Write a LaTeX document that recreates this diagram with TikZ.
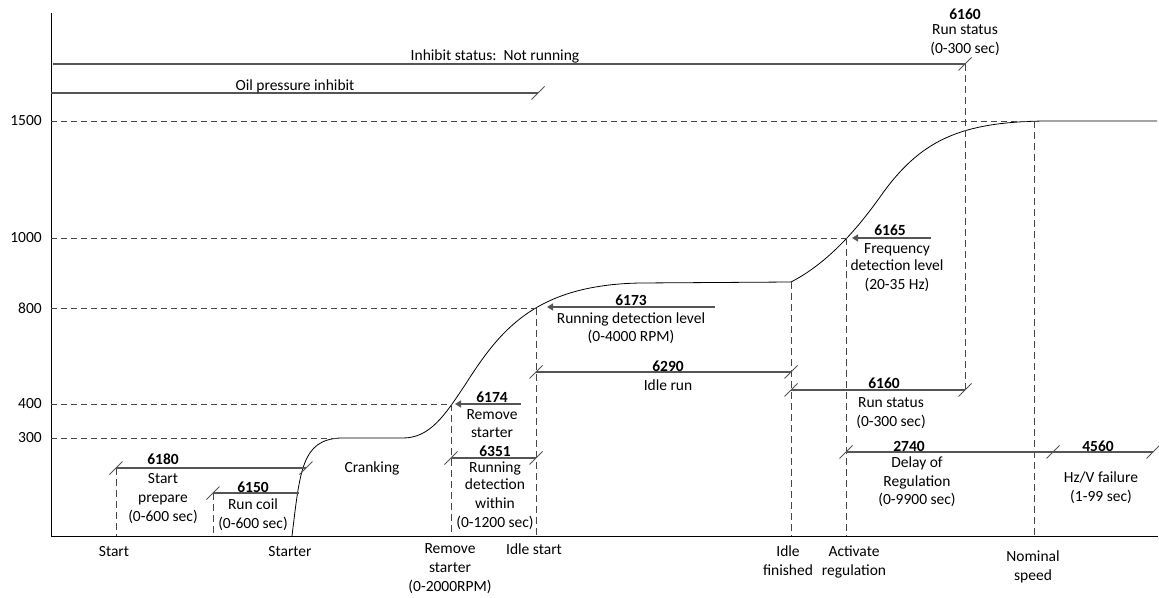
\documentclass[tikz,border=0pt]{standalone}
\usepackage{fontspec}
\setmainfont{Carlito}
\usetikzlibrary{arrows.meta,calc}
\definecolor{spangray}{RGB}{85,85,85}
\definecolor{guidegray}{RGB}{70,70,70}

\tikzset{
  cut/.pic={\draw[spangray,line width=0.8pt] (-6.5,6.5) -- (6.5,-6.5);},
}

\begin{document}
\begin{tikzpicture}[x=1pt,y=-1pt,>={Triangle[length=6pt,width=7pt]},
  font=\fontsize{15.5}{19}\selectfont,
  txt/.style={align=center,inner sep=0pt},
  span/.style={spangray,line width=1.2pt},
  guide/.style={guidegray,line width=0.8pt,dash pattern=on 6pt off 4pt},
  vguide/.style={guidegray,line width=0.8pt,dash pattern=on 7pt off 4pt}]
\useasboundingbox (0,0) rectangle (1159,597);

% axes
\coordinate (top) at (51,13);
\coordinate (orig) at (51,536);
\coordinate (xend) at (1158,536);
\draw[line width=1pt] (top) -- (orig) -- (xend);

% speed curve
\coordinate (crank) at (292,536);
\coordinate (c300) at (340,438);
\coordinate (c400) at (451,404);
\coordinate (c800) at (536,308);
\coordinate (idleend) at (791,282);
\coordinate (c1000) at (846,238);
\coordinate (c1500) at (1040,121);
\coordinate (nom) at (1034,121);
\draw[line width=0.8pt] (crank) .. controls (300,470) and (302,440) .. (c300) -- (403,438)
  .. controls (430,438) and (445,415) .. (465,385)
  .. controls (500,330) and (535,285) .. (640,283) -- (idleend)
  .. controls (830,262) and (860,225) .. (880,197)
  .. controls (920,140) and (960,122) .. (1045,121) -- (1157,121);

% speed levels
\foreach \v/\p in {300/c300,400/c400,800/c800,1000/c1000,1500/c1500}{
  \node[txt,anchor=east] (y\v) at (42,0 |- \p) {\v};
  \draw[guide] (orig |- \p) -- (\p);
}

% spans
\coordinate (ainh) at (53,64);    \coordinate (binh) at (965,64);
\coordinate (aoil) at (51,93);    \coordinate (boil) at (538,93);
\coordinate (a6180) at (116,468); \coordinate (b6180) at (306,468);
\coordinate (a6150) at (213,493); \coordinate (b6150) at (299,493);
\coordinate (a6351) at (451,458); \coordinate (b6351) at (536,458);
\coordinate (a6290) at (536,372); \coordinate (b6290) at (791,372);
\coordinate (a6160) at (791,390); \coordinate (b6160) at (965,390);
\coordinate (a2740) at (846,452); \coordinate (m2740) at (1053,452); \coordinate (b2740) at (1153,452);

\draw[vguide] (a6180) -- (a6180 |- orig);
\draw[vguide] (a6150) -- (a6150 |- orig);
\draw[vguide] (c400) -- (c400 |- orig);
\draw[vguide] (c800) -- (c800 |- orig);
\draw[vguide] (idleend) -- (idleend |- orig);
\draw[vguide] (c1000) -- (c1000 |- orig);
\draw[vguide] (binh) -- (b6160);
\draw[vguide] (nom) -- (nom |- orig);

\draw[span] (ainh) -- (binh) pic{cut};
\draw[span] (aoil) -- (boil) pic{cut};
\draw[span] (a6180) pic{cut} -- (b6180) pic{cut};
\draw[span] (a6150) pic{cut} -- (b6150);
\draw[span] (a6351) pic{cut} -- (b6351) pic{cut};
\draw[span] (a6290) pic{cut} -- (b6290) pic{cut};
\draw[span] (a6160) pic{cut} -- (b6160) pic{cut};
\draw[span] (a2740) pic{cut} -- (m2740) pic{cut} -- (b2740) pic{cut};

% level arrows
\coordinate (e6174) at (521,404); \coordinate (t6174) at (455,404);
\coordinate (e6173) at (715,307); \coordinate (t6173) at (547,307);
\coordinate (e6165) at (931,238); \coordinate (t6165) at (852,238);
\draw[span,->] (e6174) -- (t6174);
\draw[span,->] (e6173) -- (t6173);
\draw[span,->] (e6165) -- (t6165);

% labels
\node[txt,anchor=base] (inh) at (495,60) {Inhibit status:\ \ Not running};
\node[txt,anchor=base] (oil) at (295,90.5) {Oil pressure inhibit};
\node[txt,anchor=north] (n6160top) at (965,9) {\textbf{6160}\\[-4pt]Run status\\(0-300 sec)};
\node[txt,anchor=north] (n6180) at (163,454) {\textbf{6180}\\Start\\prepare\\(0-600 sec)};
\node[txt,anchor=north] (n6150) at (253,482) {\textbf{6150}\\[-2pt]Run coil\\(0-600 sec)};
\node[txt,anchor=base] (crk) at (372,472) {Cranking};
\node[txt,anchor=north] (n6174) at (492,392) {\textbf{6174}\\[-2pt]Remove\\[-1pt]starter};
\node[txt,anchor=north] (n6351) at (495,446) {\textbf{6351}\\[-3pt]Running\\[-2pt]detection\\within\\(0-1200 sec)};
\node[txt,anchor=north] (n6173) at (631,295) {\textbf{6173}\\[-1pt]Running detection level\\[-1pt](0-4000 RPM)};
\node[txt,anchor=north] (n6290) at (668,361) {\textbf{6290}\\Idle run};
\node[txt,anchor=north] (n6165) at (897,225) {\textbf{6165}\hspace*{14pt}\\[-1pt]Frequency\\[-2pt]detection level\\(20-35 Hz)};
\node[txt,anchor=north] (n6160) at (891,378) {\textbf{6160}\hspace*{14pt}\\Run status\\(0-300 sec)};
\node[txt,anchor=north] (n2740) at (917,441) {\textbf{2740}\hspace*{16pt}\\[-3pt]Delay of\\Regulation\\[-1pt](0-9900 sec)};
\node[txt,anchor=north] (n4560) at (1101,441) {\textbf{4560}\hspace*{6pt}\\[12pt]Hz/V failure\\(1-99 sec)};

% events
\node[txt,anchor=north] (xstart) at (114,546) {Start};
\node[txt,anchor=north] (xstarter) at (290,546) {Starter};
\node[txt,anchor=north] (xremove) at (450,543) {Remove\\starter\\(0-2000RPM)};
\node[txt,anchor=north] (xidle) at (534,544) {Idle start};
\node[txt,anchor=north] (xfin) at (788,546) {Idle\\finished};
\node[txt,anchor=north] (xact) at (854,546) {Activate\\regulation};
\node[txt,anchor=north] (xnom) at (1033,551) {Nominal\\speed};
\end{tikzpicture}
\end{document}
